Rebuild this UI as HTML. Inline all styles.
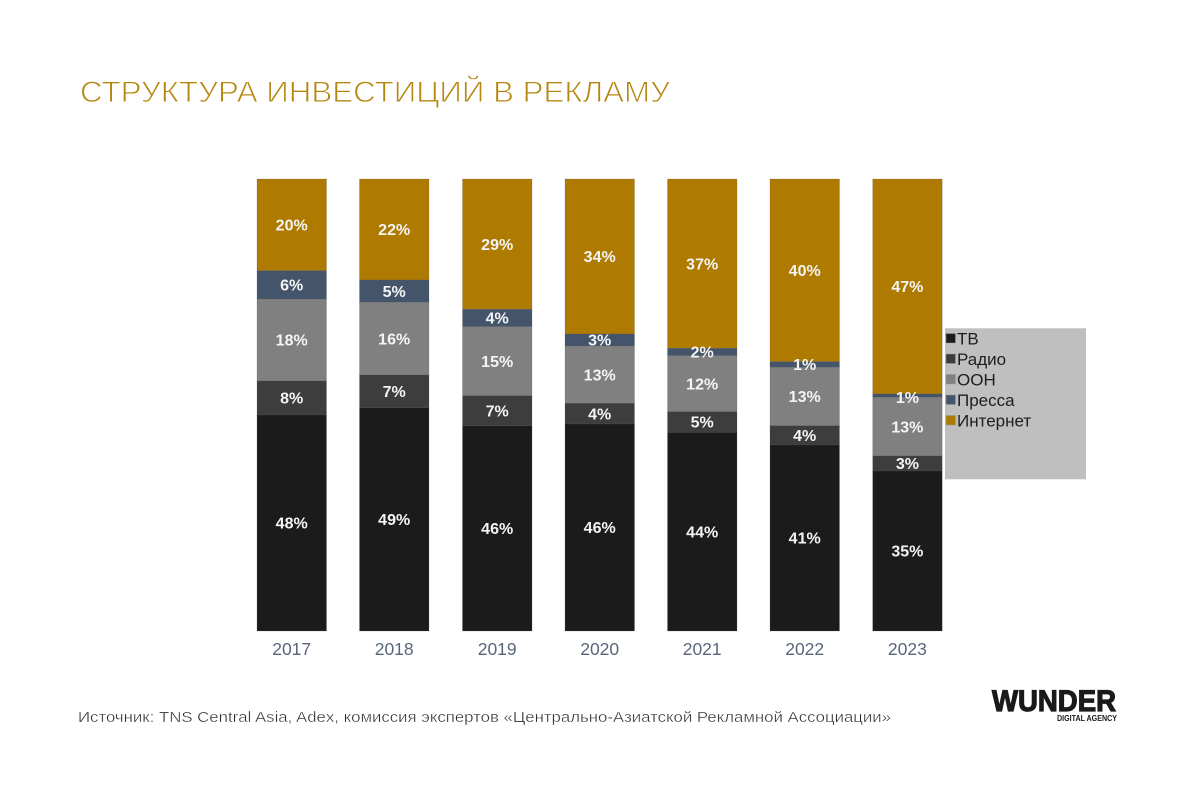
<!DOCTYPE html>
<html>
<head>
<meta charset="utf-8">
<style>
  html,body{margin:0;padding:0;background:#fff;}
  svg{display:block;}
</style>
</head>
<body>
<svg width="1200" height="800" viewBox="0 0 1200 800" xmlns="http://www.w3.org/2000/svg">
  <rect width="1200" height="800" fill="#ffffff"/>
  <!-- Title -->
  <text x="80" y="102" font-family="Liberation Sans, DejaVu Sans, sans-serif" font-size="30" fill="#b5860d" stroke="#ffffff" stroke-width="0.9" textLength="590" lengthAdjust="spacingAndGlyphs">СТРУКТУРА ИНВЕСТИЦИЙ В РЕКЛАМУ</text>

  <!-- Bars -->
  <g id="bars" stroke="#5a5a5a" stroke-opacity="0.35" stroke-width="0.6">
    <!-- 2017 -->
    <rect x="257" y="179" width="69.5" height="91.7" fill="#af7a00"/>
    <rect x="257" y="270.7" width="69.5" height="28.3" fill="#44546a"/>
    <rect x="257" y="299" width="69.5" height="82" fill="#808080"/>
    <rect x="257" y="381" width="69.5" height="34" fill="#3d3d3d"/>
    <rect x="257" y="415" width="69.5" height="216" fill="#1b1b1b"/>
    <!-- 2018 -->
    <rect x="359.5" y="179" width="69.5" height="101" fill="#af7a00"/>
    <rect x="359.5" y="280" width="69.5" height="22.3" fill="#44546a"/>
    <rect x="359.5" y="302.3" width="69.5" height="72.7" fill="#808080"/>
    <rect x="359.5" y="375" width="69.5" height="32.7" fill="#3d3d3d"/>
    <rect x="359.5" y="407.7" width="69.5" height="223.3" fill="#1b1b1b"/>
    <!-- 2019 -->
    <rect x="462.5" y="179" width="69.5" height="130.3" fill="#af7a00"/>
    <rect x="462.5" y="309.3" width="69.5" height="17.4" fill="#44546a"/>
    <rect x="462.5" y="326.7" width="69.5" height="69" fill="#808080"/>
    <rect x="462.5" y="395.7" width="69.5" height="30" fill="#3d3d3d"/>
    <rect x="462.5" y="425.7" width="69.5" height="205.3" fill="#1b1b1b"/>
    <!-- 2020 -->
    <rect x="565" y="179" width="69.5" height="155" fill="#af7a00"/>
    <rect x="565" y="334" width="69.5" height="12" fill="#44546a"/>
    <rect x="565" y="346" width="69.5" height="57.3" fill="#808080"/>
    <rect x="565" y="403.3" width="69.5" height="20.7" fill="#3d3d3d"/>
    <rect x="565" y="424" width="69.5" height="207" fill="#1b1b1b"/>
    <!-- 2021 -->
    <rect x="667.5" y="179" width="69.5" height="169.3" fill="#af7a00"/>
    <rect x="667.5" y="348.3" width="69.5" height="7.4" fill="#44546a"/>
    <rect x="667.5" y="355.7" width="69.5" height="56" fill="#808080"/>
    <rect x="667.5" y="411.7" width="69.5" height="20.6" fill="#3d3d3d"/>
    <rect x="667.5" y="432.3" width="69.5" height="198.7" fill="#1b1b1b"/>
    <!-- 2022 -->
    <rect x="770" y="179" width="69.5" height="182.7" fill="#af7a00"/>
    <rect x="770" y="361.7" width="69.5" height="5.6" fill="#44546a"/>
    <rect x="770" y="367.3" width="69.5" height="58.4" fill="#808080"/>
    <rect x="770" y="425.7" width="69.5" height="19.3" fill="#3d3d3d"/>
    <rect x="770" y="445" width="69.5" height="186" fill="#1b1b1b"/>
    <!-- 2023 -->
    <rect x="872.7" y="179" width="69.5" height="215" fill="#af7a00"/>
    <rect x="872.7" y="394" width="69.5" height="3.3" fill="#44546a"/>
    <rect x="872.7" y="397.3" width="69.5" height="58.7" fill="#808080"/>
    <rect x="872.7" y="456" width="69.5" height="15" fill="#3d3d3d"/>
    <rect x="872.7" y="471" width="69.5" height="160" fill="#1b1b1b"/>
  </g>

  <!-- Bar labels -->
  <g font-family="Liberation Sans, Arial, sans-serif" font-size="16" font-weight="bold" fill="#f4f4f4" text-anchor="middle">
    <text x="291.7" y="230.6">20%</text>
    <text x="291.7" y="290.6">6%</text>
    <text x="291.7" y="345.7">18%</text>
    <text x="291.7" y="403.7">8%</text>
    <text x="291.7" y="528.7">48%</text>

    <text x="394.2" y="235.2">22%</text>
    <text x="394.2" y="296.9">5%</text>
    <text x="394.2" y="344.4">16%</text>
    <text x="394.2" y="397.1">7%</text>
    <text x="394.2" y="525.1">49%</text>

    <text x="497.2" y="249.9">29%</text>
    <text x="497.2" y="323.7">4%</text>
    <text x="497.2" y="366.9">15%</text>
    <text x="497.2" y="416.4">7%</text>
    <text x="497.2" y="534.1">46%</text>

    <text x="599.7" y="262.2">34%</text>
    <text x="599.7" y="345.7">3%</text>
    <text x="599.7" y="380.4">13%</text>
    <text x="599.7" y="419.4">4%</text>
    <text x="599.7" y="533.2">46%</text>

    <text x="702.2" y="269.4">37%</text>
    <text x="702.2" y="357.7">2%</text>
    <text x="702.2" y="389.4">12%</text>
    <text x="702.2" y="427.7">5%</text>
    <text x="702.2" y="537.4">44%</text>

    <text x="804.7" y="276.1">40%</text>
    <text x="804.7" y="370.2">1%</text>
    <text x="804.7" y="402.2">13%</text>
    <text x="804.7" y="441.1">4%</text>
    <text x="804.7" y="543.7">41%</text>

    <text x="907.4" y="292.2">47%</text>
    <text x="907.4" y="403.2">1%</text>
    <text x="907.4" y="432.4">13%</text>
    <text x="907.4" y="469.2">3%</text>
    <text x="907.4" y="556.7">35%</text>
  </g>

  <!-- Year labels -->
  <g font-family="Liberation Sans, Arial, sans-serif" font-size="17.5" fill="#59657a" text-anchor="middle">
    <text x="291.7" y="655">2017</text>
    <text x="394.2" y="655">2018</text>
    <text x="497.2" y="655">2019</text>
    <text x="599.7" y="655">2020</text>
    <text x="702.2" y="655">2021</text>
    <text x="804.7" y="655">2022</text>
    <text x="907.4" y="655">2023</text>
  </g>

  <!-- Legend -->
  <rect x="945" y="328.3" width="141" height="151" fill="#bfbfbf"/>
  <g stroke="#9a9a9a" stroke-width="0.5">
    <rect x="946" y="333.5" width="9.5" height="9.5" fill="#1b1b1b"/>
    <rect x="946" y="354" width="9.5" height="9.5" fill="#3d3d3d"/>
    <rect x="946" y="374.5" width="9.5" height="9.5" fill="#808080"/>
    <rect x="946" y="395" width="9.5" height="9.5" fill="#44546a"/>
    <rect x="946" y="415.5" width="9.5" height="9.5" fill="#af7a00"/>
  </g>
  <g font-family="Liberation Sans, Arial, sans-serif" font-size="17" fill="#1e1e1e">
    <text x="957" y="344.5">ТВ</text>
    <text x="957" y="365">Радио</text>
    <text x="957" y="385.5">ООН</text>
    <text x="957" y="406">Пресса</text>
    <text x="957" y="426.5">Интернет</text>
  </g>

  <!-- Source -->
  <text x="78" y="722" font-family="Liberation Sans, DejaVu Sans, sans-serif" font-size="15" fill="#2a2a2a" stroke="#ffffff" stroke-width="0.35" textLength="813" lengthAdjust="spacingAndGlyphs">Источник: TNS Central Asia, Adex, комиссия экспертов «Центрально-Азиатской Рекламной Ассоциации»</text>

  <!-- Logo -->
  <text x="992" y="711" font-family="Liberation Sans, Arial, sans-serif" font-size="30" font-weight="bold" fill="#1a1a1a" stroke="#1a1a1a" stroke-width="1.2" textLength="124" lengthAdjust="spacingAndGlyphs">WUNDER</text>
  <text x="1057" y="721" font-family="Liberation Sans, Arial, sans-serif" font-size="8" font-weight="bold" fill="#1a1a1a" textLength="60" lengthAdjust="spacingAndGlyphs">DIGITAL AGENCY</text>
</svg>
</body>
</html>
